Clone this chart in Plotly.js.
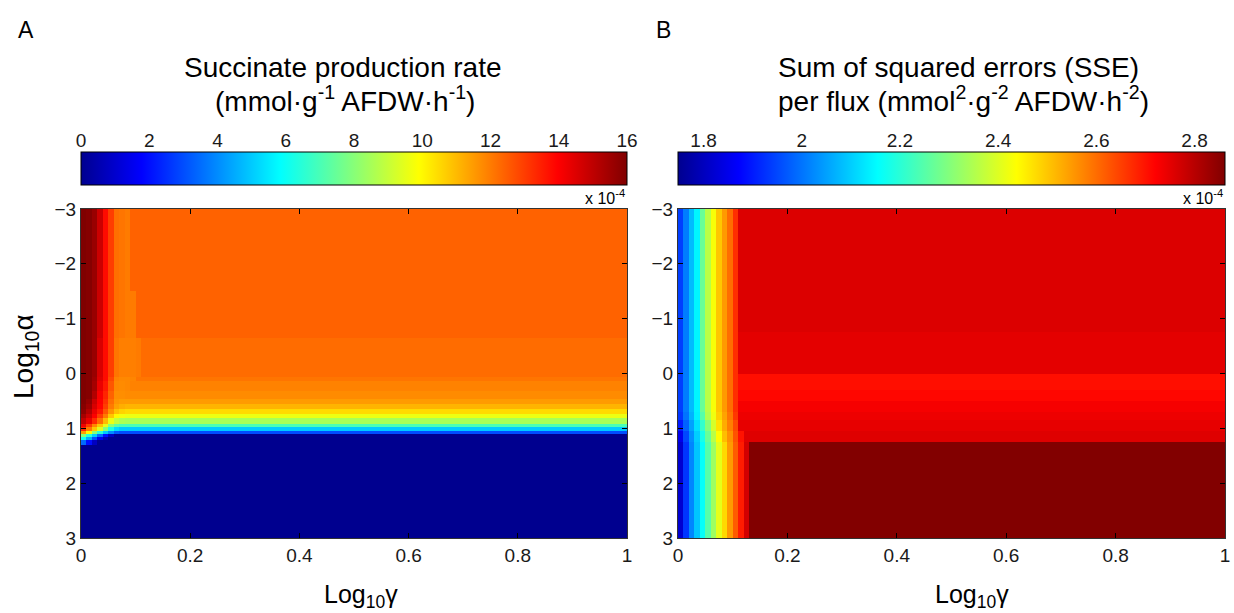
<!DOCTYPE html>
<html>
<head>
<meta charset="utf-8">
<script src="https://cdn.plot.ly/plotly-3.0.1.min.js"></script>
<style>html,body{margin:0;padding:0;background:#fff}#chart{width:1234px;height:613px}</style>
</head>
<body>
<div id="chart"></div>
<script>
// ---------- data (values in units of 1e-4) ----------
// Panel A: succinate production rate; cell edges in log10(gamma) and log10(alpha)
const gammaEdgesA = [0, 0.01, 0.02, 0.03, 0.04, 0.05, 0.06, 0.07, 0.08, 0.09, 0.1, 0.11, 1];
const alphaEdgesA = [-3, -1.5, -0.64, 0.06, 0.13, 0.31, 0.46, 0.55, 0.64, 0.73, 0.82, 0.92, 0.98, 1.04, 1.1, 1.16, 1.22, 1.3, 3];
const rateA = [
  [16, 15.9, 15.6, 14.8, 13.8, 13.0, 12.2, 12.1, 12.0, 12.4, 12.4, 12.4],
  [16, 15.9, 15.6, 14.8, 13.8, 13.0, 12.2, 12.1, 12.0, 12.0, 12.4, 12.4],
  [16, 15.9, 15.6, 14.6, 13.8, 13.0, 12.1, 11.95, 11.95, 11.95, 12.0, 12.25],
  [16, 15.9, 15.5, 14.5, 13.8, 12.8, 11.9, 11.8, 11.8, 11.85, 12.1, 12.1],
  [16, 15.9, 15.4, 14.3, 13.6, 12.6, 11.8, 11.75, 11.8, 11.9, 11.9, 11.9],
  [16, 15.9, 15.2, 14.1, 13.4, 12.4, 11.7, 11.7, 11.75, 11.75, 11.75, 11.75],
  [16, 15.7, 14.8, 14.0, 13.2, 12.2, 11.6, 11.5, 11.5, 11.5, 11.5, 11.5],
  [15.9, 15.5, 14.6, 13.9, 13.0, 12.0, 11.4, 11.2, 11.1, 11.1, 11.1, 11.1],
  [15.8, 15.2, 14.3, 13.6, 12.6, 11.6, 10.9, 10.6, 10.5, 10.5, 10.5, 10.5],
  [15.4, 14.8, 14.0, 13.0, 12.0, 10.8, 10.0, 9.7, 9.6, 9.6, 9.6, 9.6],
  [15.0, 14.3, 13.3, 12.2, 11.0, 9.6, 8.9, 8.6, 8.5, 8.5, 8.5, 8.5],
  [14.2, 13.0, 11.8, 10.8, 9.5, 8.0, 7.3, 7.0, 7.0, 7.0, 7.0, 7.0],
  [13.4, 12.0, 10.8, 9.4, 8.0, 6.3, 5.3, 5.0, 5.0, 5.0, 5.0, 5.0],
  [11.5, 10.0, 8.0, 6.5, 5.0, 4.0, 3.2, 3.0, 3.0, 3.0, 3.0, 3.0],
  [8.0, 6.5, 5.0, 3.5, 2.0, 0.8, 0, 0, 0, 0, 0, 0],
  [6.0, 4.5, 3.0, 1.5, 0.5, 0, 0, 0, 0, 0, 0, 0],
  [3.5, 2.0, 0.8, 0, 0, 0, 0, 0, 0, 0, 0, 0],
  [0, 0, 0, 0, 0, 0, 0, 0, 0, 0, 0, 0]
];

// Panel B: sum of squared errors per flux
const gammaEdgesB = [0, 0.01, 0.02, 0.03, 0.04, 0.05, 0.06, 0.07, 0.08, 0.09, 0.1, 0.11, 0.12, 0.13, 1];
const alphaEdgesB = [-3, -0.75, 0, 0.3, 0.5, 0.7, 0.85, 1.05, 1.25, 3];
const sseB = [
  [1.94, 2.01, 2.08, 2.145, 2.27, 2.36, 2.43, 2.50, 2.55, 2.60, 2.67, 2.76, 2.76, 2.76],
  [1.94, 2.01, 2.08, 2.145, 2.27, 2.36, 2.43, 2.50, 2.55, 2.60, 2.67, 2.751, 2.751, 2.751],
  [1.94, 2.01, 2.08, 2.145, 2.27, 2.36, 2.43, 2.50, 2.55, 2.60, 2.67, 2.705, 2.705, 2.705],
  [1.94, 2.01, 2.08, 2.145, 2.27, 2.36, 2.43, 2.50, 2.55, 2.60, 2.67, 2.714, 2.714, 2.714],
  [1.94, 2.01, 2.08, 2.145, 2.27, 2.36, 2.43, 2.50, 2.55, 2.60, 2.67, 2.73, 2.73, 2.73],
  [1.93, 2.00, 2.07, 2.14, 2.25, 2.35, 2.42, 2.49, 2.54, 2.59, 2.66, 2.74, 2.74, 2.74],
  [1.90, 1.98, 2.05, 2.12, 2.21, 2.30, 2.39, 2.47, 2.53, 2.58, 2.64, 2.747, 2.747, 2.747],
  [1.85, 1.95, 2.03, 2.10, 2.18, 2.27, 2.36, 2.44, 2.51, 2.56, 2.63, 2.70, 2.756, 2.756],
  [1.82, 1.93, 2.02, 2.09, 2.16, 2.25, 2.33, 2.41, 2.48, 2.55, 2.62, 2.69, 2.77, 2.86]
];

// ticks and colour ranges
const gammaTicks = [0, 0.2, 0.4, 0.6, 0.8, 1];
const alphaTicks = [-3, -2, -1, 0, 1, 2, 3];
const cbTicksA = [0, 2, 4, 6, 8, 10, 12, 14, 16];
const cbLabelsA = ['0', '2', '4', '6', '8', '10', '12', '14', '16'];
const cbTicksB = [1.8, 2.0, 2.2, 2.4, 2.6, 2.8];
const cbLabelsB = ['1.8', '2', '2.2', '2.4', '2.6', '2.8'];
const rangeA = [0, 16];
const rangeB = [1.748, 2.862];

// ---------- layout helpers ----------
const W = 1234, H = 613;
const px = v => v / W;
const py = v => 1 - v / H;
const FONT = 'Liberation Sans, Arial, Helvetica, sans-serif';
const jet = [[0, 'rgb(0,0,143)'], [0.111, 'rgb(0,0,255)'], [0.365, 'rgb(0,255,255)'],
             [0.619, 'rgb(255,255,0)'], [0.873, 'rgb(255,0,0)'], [1, 'rgb(128,0,0)']];

function cb(xc, len) {
  return {
    orientation: 'h', x: px(xc), xanchor: 'center', y: py(152), yanchor: 'top',
    len: len / W, lenmode: 'fraction', thickness: 33, thicknessmode: 'pixels',
    xpad: 0, ypad: 0, outlinewidth: 1, outlinecolor: '#000',
    ticks: '', showticklabels: false, nticks: 0, tickmode: 'array', tickvals: []
  };
}

const traces = [
  {type: 'heatmap', x: gammaEdgesA, y: alphaEdgesA, z: rateA, xaxis: 'x', yaxis: 'y',
   colorscale: jet, zmin: rangeA[0], zmax: rangeA[1], zsmooth: false, hoverinfo: 'skip',
   colorbar: cb(354, 546)},
  {type: 'heatmap', x: gammaEdgesB, y: alphaEdgesB, z: sseB, xaxis: 'x2', yaxis: 'y2',
   colorscale: jet, zmin: rangeB[0], zmax: rangeB[1], zsmooth: false, hoverinfo: 'skip',
   colorbar: cb(951.5, 547)},
  // invisible anchors so the colour-bar label axes get drawn
  {type: 'scatter', mode: 'markers', x: rangeA, y: [0.5, 0.5], xaxis: 'x3', yaxis: 'y3',
   marker: {opacity: 0, size: 1}, hoverinfo: 'skip', showlegend: false},
  {type: 'scatter', mode: 'markers', x: rangeB, y: [0.5, 0.5], xaxis: 'x4', yaxis: 'y4',
   marker: {opacity: 0, size: 1}, hoverinfo: 'skip', showlegend: false}
];

const tickFont = {family: FONT, size: 19, color: '#1a1a1a'};

function xAx(d0, d1, anchor) {
  return {
    domain: [px(d0), px(d1)], anchor: anchor, range: [0, 1], tickmode: 'array', tickvals: gammaTicks,
    ticks: 'inside', ticklen: 5, tickcolor: '#000', showline: true, linecolor: '#333', linewidth: 1,
    mirror: 'ticks', showgrid: false, zeroline: false, tickfont: tickFont
  };
}
function yAx(anchor) {
  return {
    domain: [py(538), py(209)], anchor: anchor, range: [3, -3], tickmode: 'array', tickvals: alphaTicks,
    ticks: 'inside', ticklen: 5, tickcolor: '#000', showline: true, linecolor: '#333', linewidth: 1,
    mirror: 'ticks', showgrid: false, zeroline: false, tickfont: tickFont
  };
}
function cbAx(d0, d1, anchor, range, vals, labels) {
  return {
    domain: [px(d0), px(d1)], anchor: anchor, side: 'top', range: range, tickmode: 'array',
    tickvals: vals, ticktext: labels, ticks: '', showline: false, showgrid: false, zeroline: false,
    tickfont: tickFont, fixedrange: true
  };
}
const cbYAx = anchor => ({domain: [py(185), py(152)], anchor: anchor, range: [0, 1], fixedrange: true,
  showticklabels: false, ticks: '', showline: false, showgrid: false, zeroline: false});

const ann = (text, x, y, size, xanchor, angle) => ({
  text: text, x: px(x), y: py(y), xref: 'paper', yref: 'paper', showarrow: false,
  xanchor: xanchor || 'center', yanchor: 'middle', textangle: angle || 0,
  font: {family: FONT, size: size, color: '#000'}
});

const layout = {
  width: W, height: H, margin: {l: 0, r: 0, t: 0, b: 0, pad: 0},
  paper_bgcolor: '#fff', plot_bgcolor: 'rgba(0,0,0,0)', showlegend: false,
  font: {family: FONT, color: '#000'},
  xaxis: xAx(81, 627, 'y'),
  yaxis: yAx('x'),
  xaxis2: xAx(678, 1225, 'y2'),
  yaxis2: yAx('x2'),
  xaxis3: cbAx(81, 627, 'y3', rangeA, cbTicksA, cbLabelsA),
  yaxis3: cbYAx('x3'),
  xaxis4: cbAx(678, 1225, 'y4', rangeB, cbTicksB, cbLabelsB),
  yaxis4: cbYAx('x4'),
  annotations: [
    ann('A', 26, 30, 23),
    ann('B', 663, 30, 23),
    ann('Succinate production rate', 343, 67, 28),
    ann('(mmol·g<sup>-1</sup> AFDW·h<sup>-1</sup>)', 345, 99, 28),
    ann('Sum of squared errors (SSE)', 958, 67, 28),
    ann('per flux (mmol<sup>2</sup>·g<sup>-2</sup> AFDW·h<sup>-2</sup>)', 963, 99, 28),
    ann('x 10<sup>-4</sup>', 627, 197, 16, 'right'),
    ann('x 10<sup>-4</sup>', 1225, 197, 16, 'right'),
    ann('Log<sub>10</sub>γ', 361, 596, 25),
    ann('Log<sub>10</sub>γ', 972, 596, 25),
    ann('Log<sub>10</sub>α', 25, 357, 28, 'center', -90)
  ]
};

Plotly.newPlot('chart', traces, layout, {staticPlot: true, displayModeBar: false});
</script>
</body>
</html>
